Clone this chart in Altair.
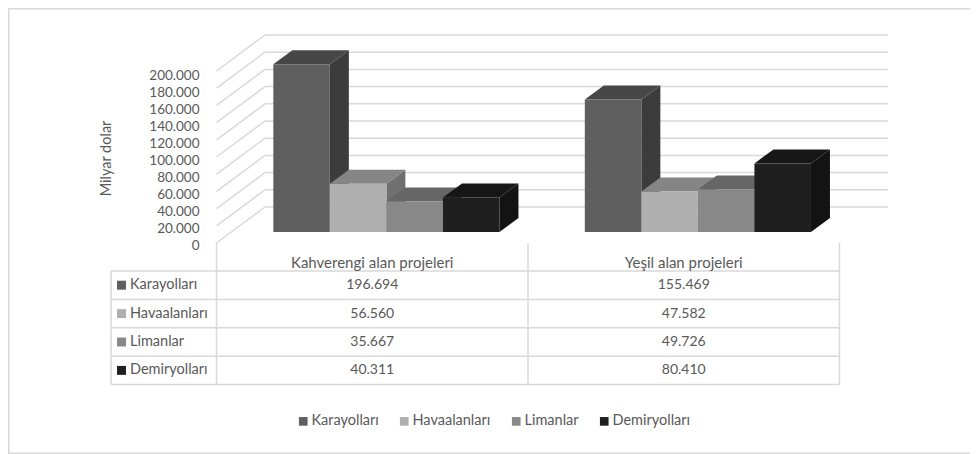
import altair as alt
import pandas as pd

groups = ["Kahverengi alan projeleri", "Yeşil alan projeleri"]
series = ["Karayolları", "Havaalanları", "Limanlar", "Demiryolları"]
values = {
    "Karayolları": [196694, 155469],
    "Havaalanları": [56560, 47582],
    "Limanlar": [35667, 49726],
    "Demiryolları": [40311, 80410],
}
labels = {
    "Karayolları": ["196.694", "155.469"],
    "Havaalanları": ["56.560", "47.582"],
    "Limanlar": ["35.667", "49.726"],
    "Demiryolları": ["40.311", "80.410"],
}
ticks = list(range(0, 200001, 20000))
front_colors = ["#5f5f5f", "#afafaf", "#888888", "#1f1f1f"]
top_colors = ["#474747", "#858585", "#666666", "#171717"]
side_colors = ["#3c3c3c", "#707070", "#545454", "#131313"]

W, H = 962, 446
FONT = "Lato"
FS = 14.5
TXT = "#595959"
GRID = "#d9d9d9"

# layout: x in category units, y in value units
CAT_PX, X_LEFT = 311.5, 216.5
cat = lambda px: (px - X_LEFT) / CAT_PX
X_SCALE = alt.Scale(domain=[cat(8), cat(8 + W)], range=[0, W], nice=False, zero=False)
BAR_START, BAR_W = 0.1824, 0.1815
DX = 19 / CAT_PX
BAR_K, WALL_K = 0.000853, 0.00086
DY = 14 / BAR_K
WALL_DX, WALL_DY = 48.5 / CAT_PX, 36 / WALL_K
WALL_END = cat(888)
ROW_H, ROW_TOP = 28.4, 271


def y_scale(base_px, k):
    return alt.Scale(domain=[(base_px - 8 - H) / k, (base_px - 8) / k], range=[H, 0], nice=False, zero=False)


BAR_Y = y_scale(232, BAR_K)
WALL_Y = y_scale(243, WALL_K)
AXIS_Y = y_scale(245, 0.00085)
ROW_Y = alt.Scale(domain=[(8 + H - ROW_TOP) / ROW_H, (8 - ROW_TOP) / ROW_H], range=[H, 0], nice=False, zero=False)

fronts, tops, sides = [], [], []
for g, _ in enumerate(groups):
    for i, s in enumerate(series):
        v = values[s][g]
        x0 = g + BAR_START + i * BAR_W
        x1 = x0 + BAR_W
        key = f"{g}-{i}"
        fronts.append(dict(s=s, x=x0, x2=x1, y=0, y2=v))
        tops += [dict(s=s, k=key, x=x0, x2=x1, y=v), dict(s=s, k=key, x=x0 + DX, x2=x1 + DX, y=v + DY)]
        sides += [dict(s=s, k=key, x=x1, y=0, y2=v), dict(s=s, k=key, x=x1 + DX, y=DY, y2=v + DY)]

X = lambda f="x": alt.X(f"{f}:Q", scale=X_SCALE, axis=None)
color = lambda r, **kw: alt.Color("s:N", scale=alt.Scale(domain=series, range=r), **kw)

# walls
wall_rows, side_rows = [], []
for t in ticks:
    wall_rows.append(dict(x=WALL_DX, x2=WALL_END, y=t + WALL_DY))
    side_rows += [dict(k=t, x=0, y=t), dict(k=t, x=WALL_DX, y=t + WALL_DY)]

axis_layer = alt.Chart(pd.DataFrame({"t": ticks})).mark_point(opacity=0).encode(
    x=alt.value(0),
    y=alt.Y("t:Q", scale=AXIS_Y, axis=alt.Axis(
        values=ticks, title="Milyar dolar", titleFont=FONT, titleFontWeight="normal", titleFontSize=FS,
        titleColor=TXT, titleX=-86, titleY=150, labelFont=FONT, labelFontSize=13.5, labelColor=TXT,
        labelExpr="replace(format(datum.value, ','), ',', '.')", domain=False, ticks=False, grid=False,
        offset=-191, labelPadding=0, tickSize=0, labelOverlap=False, labelFlush=False)),
)
wall_back = alt.Chart(pd.DataFrame(wall_rows)).mark_rule(color=GRID, strokeWidth=1.5).encode(
    x=X(), x2="x2:Q", y=alt.Y("y:Q", scale=WALL_Y, axis=None))
wall_side = alt.Chart(pd.DataFrame(side_rows)).mark_line(color=GRID, strokeWidth=1.5).encode(
    x=X(), y=alt.Y("y:Q", scale=WALL_Y, axis=None), detail="k:N")

side_layer = alt.Chart(pd.DataFrame(sides)).mark_area(orient="vertical", line=False).encode(
    x=X(), y=alt.Y("y:Q", scale=BAR_Y, axis=None), y2="y2:Q", detail="k:N", color=color(side_colors, legend=None))
top_layer = alt.Chart(pd.DataFrame(tops)).mark_area(orient="horizontal", line=False).encode(
    y=alt.Y("y:Q", scale=BAR_Y, axis=None), x=X(), x2="x2:Q", detail="k:N", color=color(top_colors, legend=None))
front_layer = alt.Chart(pd.DataFrame(fronts)).mark_rect().encode(
    x=X(), x2="x2:Q", y=alt.Y("y:Q", scale=BAR_Y, axis=None), y2="y2:Q",
    color=color(front_colors, legend=alt.Legend(
        orient="none", legendX=288, legendY=406, direction="horizontal", columns=4, title=None,
        symbolType="square", symbolSize=75, symbolStrokeWidth=0, labelFont=FONT, labelFontSize=FS,
        labelColor=TXT, columnPadding=18, labelOffset=1)),
)

# table
n = len(series)
TABLE_L = cat(111)
h_rows = [dict(x=TABLE_L, x2=len(groups), y=r) for r in range(n + 1)]
v_rows = [dict(x=TABLE_L, y=0, y2=n)] + [dict(x=c, y=(243 - ROW_TOP) / ROW_H, y2=n) for c in range(len(groups) + 1)]
Ry = lambda f="y": alt.Y(f"{f}:Q", scale=ROW_Y, axis=None)
table_h = alt.Chart(pd.DataFrame(h_rows)).mark_rule(color=GRID, strokeWidth=1.5).encode(x=X(), x2="x2:Q", y=Ry())
table_v = alt.Chart(pd.DataFrame(v_rows)).mark_rule(color=GRID, strokeWidth=1.5).encode(x=X(), y=Ry(), y2="y2:Q")

text_kw = dict(font=FONT, color=TXT)
header_rows = [dict(x=g + 0.5, y=(262.5 - ROW_TOP) / ROW_H, t=name) for g, name in enumerate(groups)]
headers = alt.Chart(pd.DataFrame(header_rows)).mark_text(fontSize=15, **text_kw).encode(x=X(), y=Ry(), text="t:N")
cell_rows = [dict(x=g + 0.5, y=r + 0.5, t=labels[s][g]) for r, s in enumerate(series) for g, _ in enumerate(groups)]
cells = alt.Chart(pd.DataFrame(cell_rows)).mark_text(fontSize=14, **text_kw).encode(x=X(), y=Ry(), text="t:N")
name_rows = [dict(x=cat(130), y=r + 0.5, t=s, s=s) for r, s in enumerate(series)]
names = alt.Chart(pd.DataFrame(name_rows)).mark_text(align="left", fontSize=FS, **text_kw).encode(x=X(), y=Ry(), text="t:N")
key_rows = [dict(x=cat(121.5), y=r + 0.5, s=s) for r, s in enumerate(series)]
keys = alt.Chart(pd.DataFrame(key_rows)).mark_square(size=80, opacity=1, strokeWidth=0).encode(
    x=X(), y=Ry(), color=color(front_colors, legend=None))

border = alt.layer(
    alt.Chart().mark_rule(color=GRID, strokeWidth=1.5).encode(x=alt.value(0.75), y=alt.value(0), y2=alt.value(H)),
    alt.Chart().mark_rule(color=GRID, strokeWidth=1.5).encode(y=alt.value(0.75), x=alt.value(0), x2=alt.value(W)),
    alt.Chart().mark_rule(color=GRID, strokeWidth=1.5).encode(y=alt.value(H - 0.75), x=alt.value(0), x2=alt.value(W)),
)

chart = alt.layer(
    border, wall_back, wall_side, axis_layer, side_layer, top_layer, front_layer,
    table_h, table_v, headers, cells, names, keys,
).resolve_scale(y="independent", color="independent").properties(
    width=W, height=H, padding=0, autosize=alt.AutoSizeParams(type="none"), background="white",
).configure_view(stroke=None)

chart.save("out.html", embed_options={"renderer": "svg", "actions": False})
